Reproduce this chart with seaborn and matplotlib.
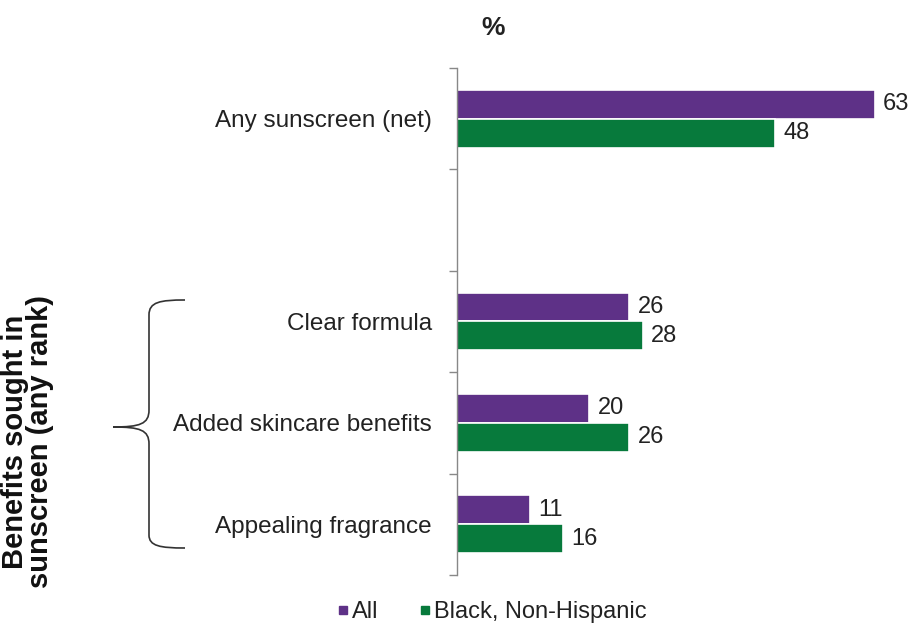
import numpy as np
import pandas as pd
import seaborn as sns
import matplotlib.pyplot as plt
from matplotlib.path import Path
from matplotlib.patches import PathPatch
from matplotlib.lines import Line2D

categories = ["Any sunscreen (net)", "", "Clear formula", "Added skincare benefits", "Appealing fragrance"]
series = ["All", "Black, Non-Hispanic"]
all_values = [63, np.nan, 26, 20, 11]
black_values = [48, np.nan, 28, 26, 16]
colors = ["#5E3187", "#077A3C"]

df = pd.DataFrame({
    "category": categories * 2,
    "group": [series[0]] * len(categories) + [series[1]] * len(categories),
    "value": all_values + black_values,
})

sns.set_style("white")
plt.rcParams['font.family'] = ['Liberation Sans', 'DejaVu Sans']

fig = plt.figure(figsize=(9.17, 6.29), dpi=100)
ax = fig.add_axes([0.498, 0.086, 0.4995, 0.806])

sns.barplot(data=df, x="value", y="category", hue="group", order=categories,
            hue_order=series, palette=colors, saturation=1, width=0.57,
            edgecolor="white", linewidth=1.2, orient="h", legend=False, ax=ax)

for cont in ax.containers:
    ax.bar_label(cont, fmt="%.0f", padding=6, fontsize=17, color="#222222")

ax.set_xlim(0, 69)
ax.set_ylim(len(categories) - 0.5, -0.5)
ax.set_xlabel("")
ax.set_ylabel("")
ax.set_xticks([])

# boundary ticks (major) and category labels (minor)
ax.set_yticks(np.arange(len(categories) + 1) - 0.5)
ax.set_yticklabels([])
ax.set_yticks(np.arange(len(categories)), minor=True)
ax.set_yticklabels(categories, minor=True, fontsize=17.5, color="#222222")
ax.tick_params(axis="y", which="major", left=True, length=6, width=1, color="#888888", direction="out")
ax.tick_params(axis="y", which="minor", left=True, length=0, pad=18)

for s in ["top", "right", "bottom"]:
    ax.spines[s].set_visible(False)
ax.spines["left"].set_color("#888888")
ax.spines["left"].set_linewidth(1)

fig.text(0.538, 0.955, "%", fontsize=19, fontweight="bold", ha="center", va="center", color="#222222")

fig.text(0.03, 0.298, "Benefits sought in\nsunscreen (any rank)", rotation=90, fontsize=21,
         fontweight="bold", ha="center", va="center", linespacing=0.88, color="#111111")

# curly brace
W, H = 917.0, 629.0
def fx(px):
    return px / W
def fy(py):
    return 1 - py / H
verts = [
    (fx(185), fy(300)), (fx(160), fy(300)), (fx(149), fy(302)), (fx(149), fy(315)),
    (fx(149), fy(410)),
    (fx(149), fy(424)), (fx(140), fy(427)), (fx(113), fy(427)),
    (fx(140), fy(427)), (fx(149), fy(430)), (fx(149), fy(444)),
    (fx(149), fy(535)),
    (fx(149), fy(546)), (fx(160), fy(548)), (fx(185), fy(548)),
]
codes = [Path.MOVETO, Path.CURVE4, Path.CURVE4, Path.CURVE4,
         Path.LINETO,
         Path.CURVE4, Path.CURVE4, Path.CURVE4,
         Path.CURVE4, Path.CURVE4, Path.CURVE4,
         Path.LINETO,
         Path.CURVE4, Path.CURVE4, Path.CURVE4]
fig.patches.append(PathPatch(Path(verts, codes), transform=fig.transFigure,
                             facecolor="none", edgecolor="#333333", lw=1.2))

handles = [Line2D([], [], marker="s", linestyle="", color=c, markersize=6) for c in colors]
fig.legend(handles, series, loc="center", bbox_to_anchor=(0.535, 0.027), ncol=2,
           frameon=False, fontsize=17, handletextpad=0.05, columnspacing=1.6,
           handlelength=0.7, labelcolor="#222222")

fig.savefig("out.png", dpi=100, facecolor="white")
